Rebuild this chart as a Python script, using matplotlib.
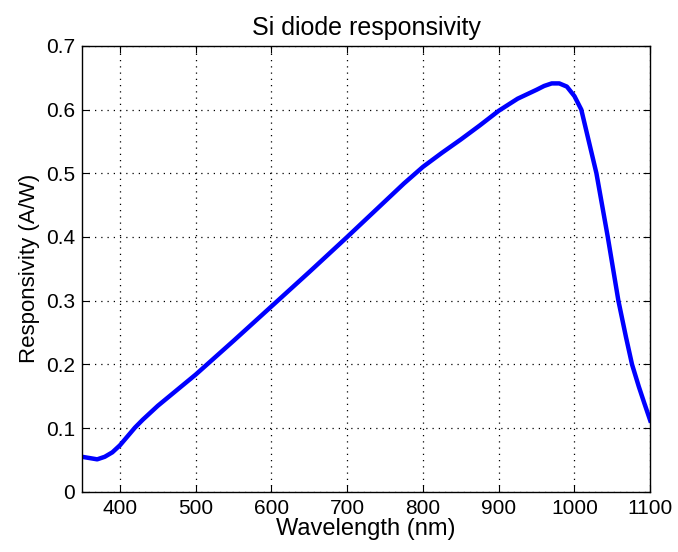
import matplotlib
matplotlib.use('Agg')
import matplotlib.pyplot as plt

# wavelength (nm) and responsivity (A/W)
wavelength = [350, 360, 370, 380, 390, 400, 410, 420, 430, 450, 500, 550, 600, 650,
              700, 750, 775, 800, 825, 850, 875, 900, 925, 950, 960, 970, 980, 990,
              1000, 1009, 1019, 1029, 1044, 1058, 1068, 1076, 1085, 1092, 1100]
responsivity = [0.055, 0.053, 0.051, 0.055, 0.062, 0.073, 0.087, 0.101, 0.113, 0.135,
                0.184, 0.237, 0.291, 0.345, 0.400, 0.456, 0.484, 0.510, 0.532, 0.553,
                0.575, 0.598, 0.617, 0.631, 0.637, 0.641, 0.641, 0.636, 0.621, 0.600,
                0.550, 0.500, 0.400, 0.300, 0.243, 0.200, 0.165, 0.140, 0.112]

plt.rcParams['font.family'] = ['Liberation Sans', 'DejaVu Sans']

fig = plt.figure(figsize=(6.78, 5.52), dpi=100)
ax = fig.add_axes([0.121, 0.109, 0.838, 0.808])
ax.plot(wavelength, responsivity, color='#0000ff', linewidth=3.2)

ax.set_xlim(350, 1100)
ax.set_ylim(0, 0.7)
ax.set_xticks(range(400, 1101, 100))
ax.set_yticks([0, 0.1, 0.2, 0.3, 0.4, 0.5, 0.6, 0.7])
ax.set_yticklabels(['0', '0.1', '0.2', '0.3', '0.4', '0.5', '0.6', '0.7'])
ax.grid(True, color='black', linestyle=(0, (1, 4)), linewidth=0.9)
ax.tick_params(direction='in', top=True, right=True, labelsize=15, length=5, pad=5)
for s in ax.spines.values():
    s.set_linewidth(1.0)

ax.set_xlabel('Wavelength (nm)', fontsize=17, labelpad=0)
ax.set_ylabel('Responsivity (A/W)', fontsize=16, labelpad=4)
ax.set_title('Si diode responsivity', fontsize=18, pad=8)

fig.savefig('out.png', dpi=100)
